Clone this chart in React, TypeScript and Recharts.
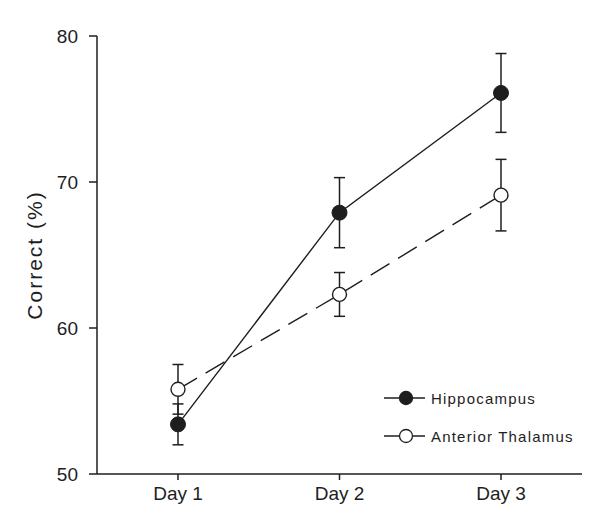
import React from "react";
import { LineChart, Line, XAxis, YAxis, ErrorBar } from "recharts";

const days = ["Day 1", "Day 2", "Day 3"];
const hippocampus = [53.4, 67.9, 76.1];
const hippocampusErr = [1.4, 2.4, 2.7];
const thalamus = [55.8, 62.3, 69.1];
const thalamusErr = [1.7, 1.5, 2.45];
const yTicks = [50, 60, 70, 80];

const data = days.map((day, i) => ({
  day,
  hippo: hippocampus[i],
  hippoErr: hippocampusErr[i],
  thal: thalamus[i],
  thalErr: thalamusErr[i],
}));

const INK = "#1e1e1e";
const FONT = "'Liberation Sans', Arial, sans-serif";

const legendItems = [
  { label: "Hippocampus", fill: INK },
  { label: "Anterior Thalamus", fill: "#fff" },
];

const LegendBox = () => (
  <div
    style={{
      position: "absolute",
      left: 376,
      top: 371,
      fontFamily: FONT,
      fontSize: 15,
      letterSpacing: 1.2,
      color: INK,
    }}
  >
    {legendItems.map((it) => (
      <div key={it.label} style={{ display: "flex", alignItems: "center", height: 38 }}>
        <svg width={47} height={18}>
          <line x1={0} y1={9} x2={41} y2={9} stroke={INK} strokeWidth={1.3} />
          <circle cx={22} cy={9} r={6.5} fill={it.fill} stroke={INK} strokeWidth={1.3} />
        </svg>
        <span>{it.label}</span>
      </div>
    ))}
  </div>
);

export default function App() {
  return (
    <div style={{ position: "relative", width: 585, height: 514, background: "#fff" }}>
      <LineChart
        width={585}
        height={514}
        data={data}
        margin={{ top: 28, right: 11, left: 29, bottom: 18 }}
      >
        <XAxis
          dataKey="day"
          padding={{ left: 81, right: 81 }}
          stroke={INK}
          strokeWidth={1.5}
          tickSize={6}
          tickMargin={7}
          height={30}
          tick={{ fontSize: 19, fill: INK, fontFamily: FONT }}
        />
        <YAxis
          domain={[50, 80]}
          ticks={yTicks}
          width={60}
          stroke={INK}
          strokeWidth={1.5}
          tickSize={8}
          tickMargin={11}
          tick={{ fontSize: 19, fill: INK, fontFamily: FONT }}
          label={{
            value: "Correct (%)",
            angle: -90,
            position: "insideLeft",
            offset: -2,
            style: {
              textAnchor: "middle",
              fontSize: 21,
              letterSpacing: 2,
              fill: INK,
              fontFamily: FONT,
            },
          }}
        />
        <Line
          dataKey="hippo"
          stroke={INK}
          strokeWidth={1.4}
          isAnimationActive={false}
          dot={{ r: 7.5, fill: INK, stroke: INK, strokeWidth: 1 }}
        >
          <ErrorBar dataKey="hippoErr" width={5.5} stroke={INK} strokeWidth={1.5} direction="y" />
        </Line>
        <Line
          dataKey="thal"
          stroke={INK}
          strokeWidth={1.4}
          strokeDasharray="22 10"
          isAnimationActive={false}
          dot={{ r: 7, fill: "#fff", stroke: INK, strokeWidth: 1.4, strokeDasharray: "0" }}
        >
          <ErrorBar dataKey="thalErr" width={5.5} stroke={INK} strokeWidth={1.5} direction="y" />
        </Line>
      </LineChart>
      <LegendBox />
    </div>
  );
}
